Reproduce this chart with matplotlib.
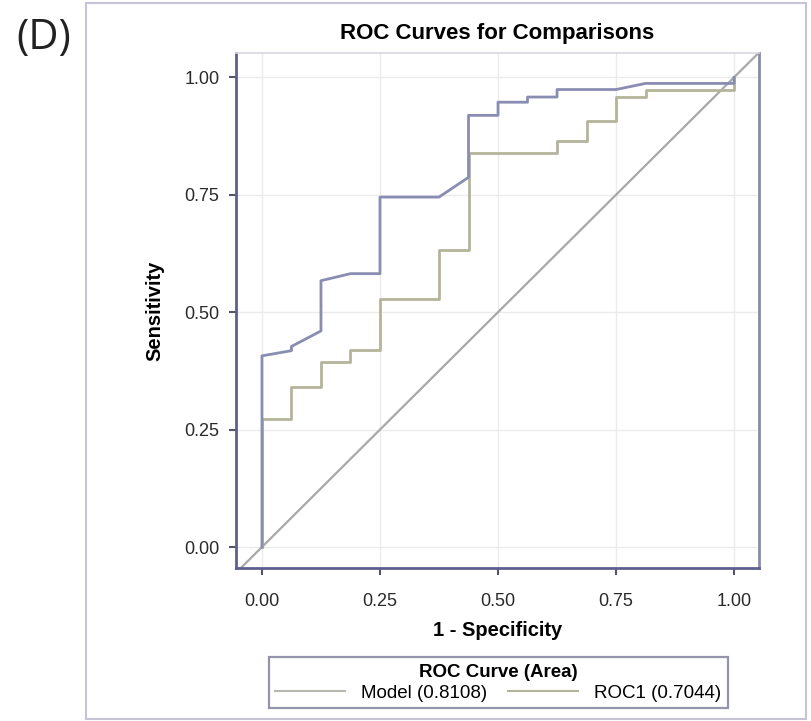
import matplotlib
matplotlib.use("Agg")
import matplotlib.pyplot as plt
from matplotlib.lines import Line2D
from matplotlib.patches import Rectangle

plt.rcParams['font.family'] = ['Liberation Sans', 'DejaVu Sans']

# ROC curve vertices (1 - specificity, sensitivity)
model_fpr = [0, 0, 0.0625, 0.0625, 0.125, 0.125, 0.1875, 0.25, 0.25, 0.375,
             0.4375, 0.4375, 0.5, 0.5, 0.5625, 0.5625, 0.625, 0.625, 0.75,
             0.8125, 1.0, 1.0]
model_tpr = [0, 0.407, 0.418, 0.427, 0.46, 0.567, 0.582, 0.582, 0.745, 0.745,
             0.787, 0.919, 0.919, 0.947, 0.947, 0.958, 0.958, 0.974, 0.974,
             0.987, 0.987, 1.0]

roc1_fpr = [0, 0, 0.0625, 0.0625, 0.125, 0.125, 0.1875, 0.1875, 0.25, 0.25,
            0.375, 0.375, 0.4375, 0.4375, 0.625, 0.625, 0.6875, 0.6875, 0.75,
            0.75, 0.8125, 0.8125, 1.0, 1.0]
roc1_tpr = [0, 0.273, 0.273, 0.340, 0.340, 0.394, 0.394, 0.420, 0.420, 0.528,
            0.528, 0.633, 0.633, 0.838, 0.838, 0.864, 0.864, 0.908, 0.908,
            0.958, 0.958, 0.974, 0.974, 1.0]

ticks = [0.0, 0.25, 0.5, 0.75, 1.0]
tick_labels = ['0.00', '0.25', '0.50', '0.75', '1.00']
legend_labels = ['Model (0.8108)', 'ROC1 (0.7044)']

c_model = '#8a8db2'
c_roc1 = '#b4b49a'
c_diag = '#a8a8a8'
c_spine = '#5e5f8f'

fig = plt.figure(figsize=(8.11, 7.21), dpi=100)

# outer frame and panel letter
fig.patches.append(Rectangle((0.106, 0.003), 0.888, 0.993, transform=fig.transFigure,
                             fill=False, edgecolor='#c4c4d4', linewidth=1.5))
fig.text(0.020, 0.932, '(D)', fontsize=30, va='baseline', ha='left',
         family=['Open Sans', 'DejaVu Sans'], color='#222222')

ax = fig.add_axes([0.291, 0.212, 0.645, 0.714])
ax.set_xlim(-0.055, 1.053)
ax.set_ylim(-0.045, 1.051)

ax.grid(True, color='#ebebeb', linewidth=1.0)
ax.set_axisbelow(True)
ax.axline((0, 0), (1, 1), color=c_diag, linewidth=1.6)
ax.plot(roc1_fpr, roc1_tpr, color=c_roc1, linewidth=2.0)
ax.plot(model_fpr, model_tpr, color=c_model, linewidth=2.0)

ax.set_xticks(ticks, tick_labels)
ax.set_yticks(ticks, tick_labels)
ax.tick_params(direction='out', length=5, width=1.5, color='#555566',
               labelsize=13, labelcolor='#2a2a2a')
ax.tick_params(axis='x', pad=13)
ax.tick_params(axis='y', pad=7)
for side in ['left', 'bottom', 'right']:
    ax.spines[side].set_color(c_spine)
    ax.spines[side].set_linewidth(2.0)
ax.spines['right'].set_color('#8a8aa8')
ax.spines['top'].set_color('#d8d8e0')
ax.spines['top'].set_linewidth(1.2)

ax.set_xlabel('1 - Specificity', fontsize=14.5, fontweight='bold', labelpad=8)
ax.set_ylabel('Sensitivity', fontsize=14.5, fontweight='bold', labelpad=14)
ax.set_title('ROC Curves for Comparisons', fontsize=16, fontweight='bold', pad=10)

handles = [Line2D([], [], color='#b8b8b0', linewidth=1.5),
           Line2D([], [], color=c_roc1, linewidth=1.5)]
leg = fig.legend(handles, legend_labels, loc='center', ncol=2,
                 bbox_to_anchor=(0.6145, 0.053), title='ROC Curve (Area)',
                 title_fontproperties={'weight': 'bold', 'size': 13.5},
                 fontsize=13.5, handlelength=3.7, columnspacing=1.1,
                 handletextpad=0.9, borderpad=0.35, labelspacing=0.2,
                 fancybox=False, frameon=True)
leg.get_frame().set_edgecolor('#7a7a98')
leg.get_frame().set_linewidth(1.6)

fig.savefig('out.png', dpi=100)
